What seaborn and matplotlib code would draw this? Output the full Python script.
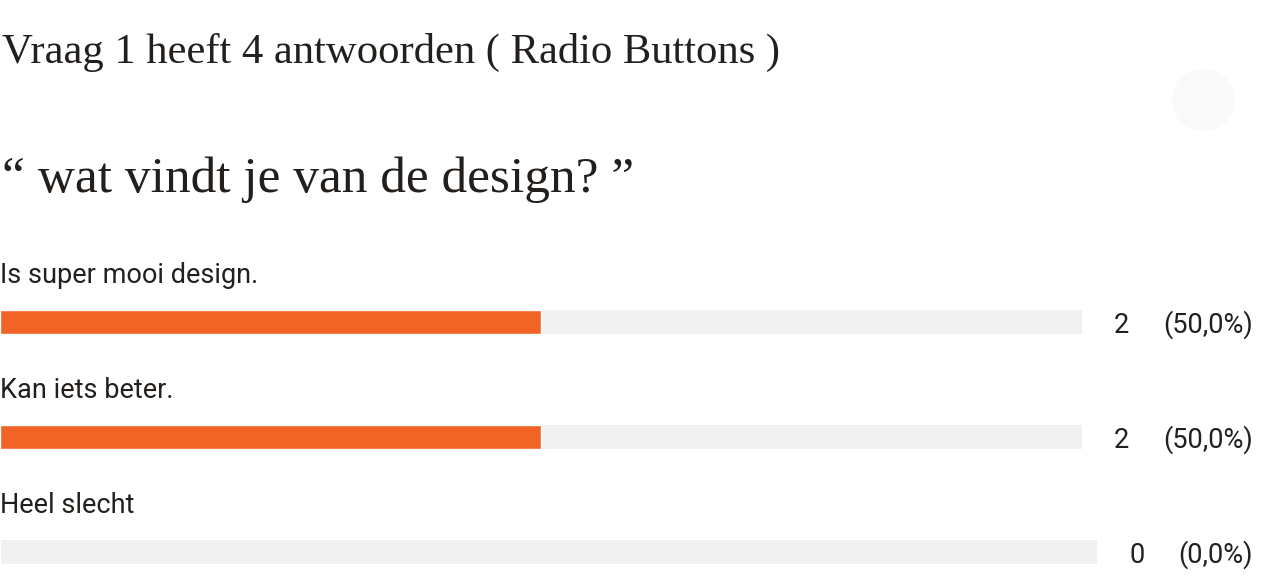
import matplotlib
matplotlib.use('Agg')
import matplotlib.pyplot as plt
import seaborn as sns
from matplotlib.patches import Circle

sns.set_theme(style='white')

title = 'Vraag 1 heeft 4 antwoorden ( Radio Buttons )'
question = '\u201c wat vindt je van de design? \u201d'
answers = ['Is super mooi design.', 'Kan iets beter.', 'Heel slecht']
counts = [2, 2, 0]
total = 4

W, H = 1270, 586
ink = '#231f1c'
orange = '#f26326'
track = '#f1f1f1'

fig = plt.figure(figsize=(W / 100, H / 100), dpi=100)
fig.patch.set_facecolor('white')

def fx(px):
    return px / W

def fy(py):
    return 1 - py / H

serif = ['Liberation Serif', 'DejaVu Serif']
sans = ['Roboto', 'DejaVu Sans']

fig.text(fx(2), fy(63), title, family=serif, fontsize=30.7, color=ink, va='baseline')
fig.text(fx(2), fy(192), question, family=serif, fontsize=37, color=ink, va='baseline')

# lichte cirkel rechtsboven
bg = fig.add_axes([0, 0, 1, 1], zorder=-1)
bg.set_xlim(0, W)
bg.set_ylim(H, 0)
bg.axis('off')
bg.add_patch(Circle((1203.5, 100), 31.5, color='#fafafa', lw=0))

renderer = fig.canvas.get_renderer()

for i, (label, n) in enumerate(zip(answers, counts)):
    top = 310 + i * 115
    fig.text(fx(0), fy(top - 27), label, family=sans, fontsize=19.5, color=ink,
             va='baseline')

    pct = f'({n / total * 100:.1f}%)'.replace('.', ',')
    t_pct = fig.text(fx(1253), fy(top + 23), pct, family=sans, fontsize=19.5,
                     color=ink, ha='right', va='baseline')
    left_pct = t_pct.get_window_extent(renderer).x0
    t_cnt = fig.text(fx(left_pct - 34), fy(top + 23), str(n), family=sans, fontsize=19.5,
                     color=ink, ha='right', va='baseline')
    left_cnt = t_cnt.get_window_extent(renderer).x0
    bar_end = left_cnt - 32

    ax = fig.add_axes([0, fy(top + 24), fx(bar_end), 24 / H])
    sns.barplot(x=[n], y=[label], color=orange, saturation=1, width=1, ax=ax)
    ax.set_xlim(0, total)
    ax.set_ylim(0.5, -0.5)
    ax.set_facecolor(track)
    ax.set_xticks([])
    ax.set_yticks([])
    ax.set_xlabel('')
    ax.set_ylabel('')
    for s in ax.spines.values():
        s.set_visible(False)

fig.savefig('out.png', dpi=100, facecolor='white')
